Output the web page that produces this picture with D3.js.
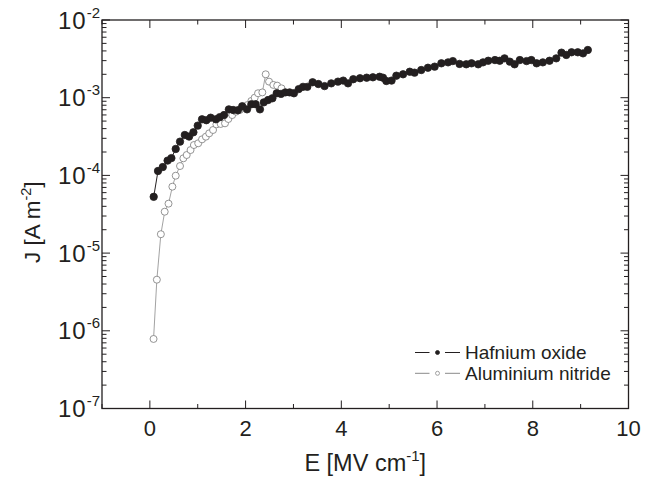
<!DOCTYPE html>
<html>
<head>
<meta charset="utf-8">
<script src="https://cdn.jsdelivr.net/npm/d3@7"></script>
<style>
  body { margin: 0; background: #fff; }
  text { font-family: "Liberation Sans", Arial, sans-serif; fill: #231f20; }
</style>
</head>
<body>
<script>
'use strict';

// Hafnium oxide (filled circles)
let hfE = [0.08, 0.17, 0.27, 0.37, 0.45, 0.54, 0.63, 0.73, 0.82, 0.91, 1.00, 1.09, 1.18, 1.27, 1.38, 1.46, 1.55, 1.65, 1.74, 1.84,
  1.93, 2.03, 2.12, 2.21, 2.30, 2.38, 2.47, 2.56, 2.65, 2.74, 2.83, 2.92, 3.01, 3.11, 3.20, 3.29, 3.40, 3.52, 3.65, 3.79,
  3.93, 4.04, 4.14, 4.25, 4.39, 4.53, 4.66, 4.80, 4.87, 4.94, 5.05, 5.15, 5.29, 5.43, 5.53, 5.67, 5.81, 5.95, 6.09, 6.23,
  6.33, 6.47, 6.61, 6.72, 6.86, 6.96, 7.07, 7.21, 7.31, 7.41, 7.52, 7.62, 7.73, 7.87, 7.97, 8.08, 8.21, 8.35, 8.49, 8.60,
  8.70, 8.81, 8.94, 9.05, 9.15];
let hfJ = [5.3e-5, 1.14e-4, 1.28e-4, 1.55e-4, 1.67e-4, 2.19e-4, 2.72e-4, 3.31e-4, 3.16e-4, 3.59e-4, 4.37e-4, 5.27e-4, 5.13e-4, 5.53e-4, 5.27e-4, 5.62e-4, 5.98e-4, 7.08e-4, 6.95e-4, 6.9e-4,
  7.76e-4, 7.08e-4, 8.22e-4, 8.22e-4, 7.08e-4, 8.71e-4, 9.33e-4, 9.82e-4, 1.14e-3, 1.12e-3, 1.17e-3, 1.17e-3, 1.14e-3, 1.29e-3, 1.38e-3, 1.38e-3, 1.58e-3, 1.50e-3, 1.41e-3, 1.53e-3,
  1.61e-3, 1.66e-3, 1.53e-3, 1.73e-3, 1.78e-3, 1.81e-3, 1.83e-3, 1.86e-3, 1.81e-3, 1.64e-3, 1.66e-3, 1.92e-3, 2.0e-3, 2.16e-3, 2.10e-3, 2.27e-3, 2.43e-3, 2.51e-3, 2.77e-3, 2.85e-3,
  2.96e-3, 2.72e-3, 2.69e-3, 2.77e-3, 2.69e-3, 2.85e-3, 2.99e-3, 3.05e-3, 2.99e-3, 3.21e-3, 2.91e-3, 2.69e-3, 3.05e-3, 2.96e-3, 3.05e-3, 2.77e-3, 2.85e-3, 2.99e-3, 3.21e-3, 3.80e-3,
  3.55e-3, 3.84e-3, 3.84e-3, 3.72e-3, 4.11e-3];

// Aluminium nitride (open circles)
let alnE = [0.077, 0.146, 0.23, 0.31, 0.39, 0.47, 0.54, 0.63, 0.70, 0.77, 0.85, 0.92, 1.01, 1.09, 1.17, 1.24, 1.32, 1.39, 1.48, 1.57,
  1.64, 1.72, 1.80, 1.88, 1.96, 2.04, 2.12, 2.19, 2.26, 2.35, 2.42, 2.49, 2.58, 2.66, 2.75];
let alnJ = [7.85e-7, 4.55e-6, 1.75e-5, 3.41e-5, 4.33e-5, 7.16e-5, 9.91e-5, 1.32e-4, 1.66e-4, 1.83e-4, 2.12e-4, 2.46e-4, 2.59e-4, 2.91e-4, 3.15e-4, 3.48e-4, 3.84e-4, 4.54e-4, 4.59e-4, 4.68e-4,
  5.32e-4, 5.98e-4, 6.61e-4, 6.95e-4, 7.45e-4, 8.05e-4, 9.08e-4, 1.0e-3, 1.14e-3, 1.17e-3, 2.0e-3, 1.61e-3, 1.46e-3, 1.43e-3, 1.32e-3];

let xTicks = [0, 2, 4, 6, 8, 10];
let yExps = [-7, -6, -5, -4, -3, -2];
let seriesNames = ["Hafnium oxide", "Aluminium nitride"];

let width = 653, height = 489;
let plot = {left: 102, right: 628.5, top: 20, bottom: 408.5};

let svg = d3.select('body').append('svg')
  .attr('width', width)
  .attr('height', height);

// scales
let xScale = d3.scaleLinear().domain([-1, 10]).range([plot.left, plot.right]);
let yScale = d3.scaleLog().domain([1e-7, 1e-2]).range([plot.bottom, plot.top]);

let axisColor = '#231f20';

// tick marks, all pointing into the plot, mirrored on top and right
function drawTicks() {
  let g = svg.append('g').attr('stroke', axisColor).attr('stroke-width', 1);
  let xMinor = d3.range(-1, 11, 1).filter((v) => v % 2 !== 0);
  let xs = xTicks.map((v) => ({v: v, len: 8})).concat(xMinor.map((v) => ({v: v, len: 4.5})));
  xs.forEach((t) => {
    let x = xScale(t.v);
    g.append('line').attr('x1', x).attr('x2', x).attr('y1', plot.bottom).attr('y2', plot.bottom - t.len);
    g.append('line').attr('x1', x).attr('x2', x).attr('y1', plot.top).attr('y2', plot.top + t.len);
  });
  let ys = [];
  yExps.forEach((e) => {
    ys.push({v: Math.pow(10, e), len: 8});
    if (e < -2) {
      for (let m = 2; m <= 9; m++) ys.push({v: m * Math.pow(10, e), len: 4.5});
    }
  });
  ys.forEach((t) => {
    let y = yScale(t.v);
    g.append('line').attr('x1', plot.left).attr('x2', plot.left + t.len).attr('y1', y).attr('y2', y);
    g.append('line').attr('x1', plot.right).attr('x2', plot.right - t.len).attr('y1', y).attr('y2', y);
  });
  // frame
  svg.append('rect')
    .attr('x', plot.left).attr('y', plot.top)
    .attr('width', plot.right - plot.left).attr('height', plot.bottom - plot.top)
    .attr('fill', 'none').attr('stroke', axisColor).attr('stroke-width', 1.3);
}

function drawLabels() {
  svg.selectAll('.xlab').data(xTicks).enter().append('text')
    .attr('x', (d) => xScale(d))
    .attr('y', 436)
    .attr('text-anchor', 'middle')
    .style('font-size', '22px')
    .text((d) => d);

  yExps.forEach((e) => {
    let t = svg.append('text')
      .attr('x', 100)
      .attr('y', yScale(Math.pow(10, e)) + 8.5)
      .attr('text-anchor', 'end')
      .style('font-size', '24px');
    t.append('tspan').style('letter-spacing', '1px').text('10');
    t.append('tspan').attr('dy', -11).style('font-size', '15px').text(e);
  });

  let xt = svg.append('text')
    .attr('x', (plot.left + plot.right) / 2)
    .attr('y', 471)
    .attr('text-anchor', 'middle')
    .style('font-size', '23.5px');
  xt.append('tspan').text('E [MV cm');
  xt.append('tspan').attr('dy', -10).style('font-size', '15px').text('-1');
  xt.append('tspan').attr('dy', 10).text(']');

  let yt = svg.append('text')
    .attr('transform', 'translate(40, ' + ((plot.top + plot.bottom) / 2 + 8) + ')rotate(-90)')
    .attr('text-anchor', 'middle')
    .style('font-size', '22.5px');
  yt.append('tspan').text('J [A m');
  yt.append('tspan').attr('dy', -9).style('font-size', '14.5px').text('-2');
  yt.append('tspan').attr('dy', 9).text(']');
}

function plotSeries(es, js, lineColor, lineWidth, fill, stroke, r) {
  let pts = es.map((e, i) => [e, js[i]]);
  let line = d3.line()
    .x((d) => xScale(d[0]))
    .y((d) => yScale(d[1]));
  svg.append('path')
    .datum(pts)
    .attr('fill', 'none')
    .attr('stroke', lineColor)
    .attr('stroke-width', lineWidth)
    .attr('d', line);
  svg.append('g').selectAll('circle')
    .data(pts)
    .enter()
    .append('circle')
      .attr('cx', (d) => xScale(d[0]))
      .attr('cy', (d) => yScale(d[1]))
      .attr('r', r)
      .attr('fill', fill)
      .attr('stroke', stroke)
      .attr('stroke-width', 0.8);
}

function drawLegend() {
  let styles = [
    {line: '#231f20', fill: '#231f20', stroke: '#231f20', r: 2},
    {line: '#8a8a8a', fill: '#fff', stroke: '#8a8a8a', r: 2}
  ];
  seriesNames.forEach((name, i) => {
    let y = 352.5 + i * 20.8;
    let s = styles[i];
    svg.append('line').attr('x1', 415).attr('x2', 429.5).attr('y1', y).attr('y2', y)
      .attr('stroke', s.line).attr('stroke-width', 1);
    svg.append('line').attr('x1', 445).attr('x2', 460).attr('y1', y).attr('y2', y)
      .attr('stroke', s.line).attr('stroke-width', 1);
    svg.append('circle').attr('cx', 437.5).attr('cy', y).attr('r', s.r)
      .attr('fill', s.fill).attr('stroke', s.stroke).attr('stroke-width', 0.8);
    svg.append('text')
      .attr('x', 465)
      .attr('y', y + 6.5)
      .style('font-size', '19px')
      .text(name);
  });
}

plotSeries(alnE, alnJ, '#8a8a8a', 0.8, '#fff', '#7a7a7a', 3.5);
plotSeries(hfE, hfJ, '#231f20', 1, '#231f20', '#231f20', 3.7);
drawTicks();
drawLabels();
drawLegend();
</script>
</body>
</html>
